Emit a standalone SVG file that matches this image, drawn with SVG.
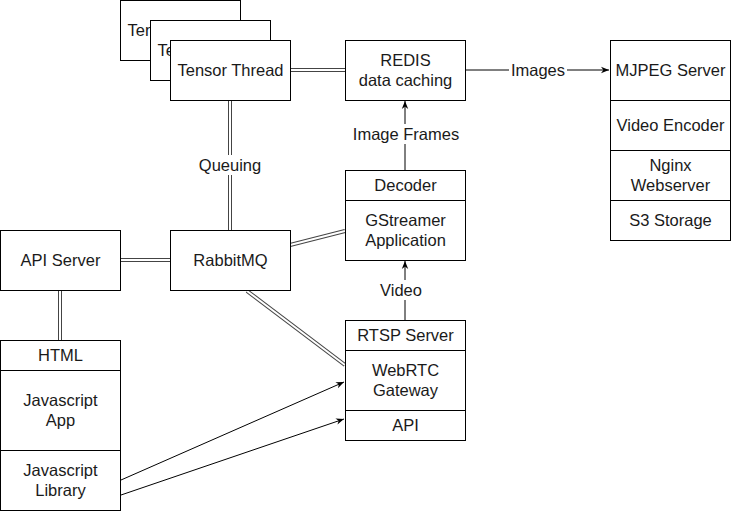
<svg xmlns="http://www.w3.org/2000/svg" width="731" height="511" viewBox="0 0 731 511">
<defs>
<marker id="arr" viewBox="0 0 10 10" refX="10" refY="5" markerWidth="8" markerHeight="8" markerUnits="userSpaceOnUse" orient="auto">
<path d="M0,1 L10,5 L0,9 L3,5 Z" fill="#000"/>
</marker>
</defs>
<style>
.b{fill:#fff;stroke:#000;stroke-width:1}
.t{font-family:"Liberation Sans",Arial,sans-serif;font-size:16.5px;fill:#1a1a1a;text-anchor:middle}
.lo{fill:none;stroke:#444;stroke-width:4}
.li{fill:none;stroke:#fff;stroke-width:2}
.s{fill:none;stroke:#000;stroke-width:1}
.lb{fill:#fff}
</style>
<rect width="731" height="511" fill="#fff"/>
<g id="tensor3">
<rect class="b" x="120.5" y="0.5" width="120" height="60"/>
<text class="t" x="180.5" y="36">Tensor Thread</text>
</g>
<g id="tensor2">
<rect class="b" x="150.5" y="20.5" width="120" height="60"/>
<text class="t" x="210.5" y="56">Tensor Thread</text>
</g>
<g id="connectors">
<path class="lo" d="M290,70 H345"/><path class="li" d="M290,70 H345"/>
<path class="lo" d="M230,100 V230"/><path class="li" d="M230,100 V230"/>
<path class="lo" d="M120,260 H170"/><path class="li" d="M120,260 H170"/>
<path class="lo" d="M60,290 V340"/><path class="li" d="M60,290 V340"/>
<path class="lo" d="M290,245 L345,231"/><path class="li" d="M290,245 L345,231"/>
<path class="lo" d="M247,291 L345,365"/><path class="li" d="M247,291 L345,365"/>
<rect class="lb" x="195" y="155" width="70" height="20"/>
<text class="t" x="230" y="171">Queuing</text>
<path class="s" d="M465,70 H609" marker-end="url(#arr)"/>
<rect class="lb" x="509" y="60" width="58" height="20"/>
<text class="t" x="538" y="76">Images</text>
<path class="s" d="M405,170 V101" marker-end="url(#arr)"/>
<rect class="lb" x="348" y="124" width="116" height="20"/>
<text class="t" x="406" y="140">Image Frames</text>
<path class="s" d="M405,320 V261" marker-end="url(#arr)"/>
<rect class="lb" x="377" y="280" width="48" height="20"/>
<text class="t" x="401" y="296">Video</text>
<path class="s" d="M121,480 L344,382" marker-end="url(#arr)"/>
<path class="s" d="M121,495 L344,419" marker-end="url(#arr)"/>
</g>
<g id="tensor1">
<rect class="b" x="170.5" y="40.5" width="120" height="60"/>
<text class="t" x="230.5" y="76">Tensor Thread</text>
</g>
<g id="redis">
<rect class="b" x="345.5" y="40.5" width="120" height="60"/>
<text class="t" x="405.5" y="66">REDIS</text>
<text class="t" x="405.5" y="86">data caching</text>
</g>
<g id="mjpeg">
<rect class="b" x="610.5" y="40.5" width="120" height="200"/>
<path class="s" d="M610.5,100.5 H730.5 M610.5,150.5 H730.5 M610.5,200.5 H730.5"/>
<text class="t" x="670.5" y="76">MJPEG Server</text>
<text class="t" x="670.5" y="131">Video Encoder</text>
<text class="t" x="670.5" y="171">Nginx</text>
<text class="t" x="670.5" y="191">Webserver</text>
<text class="t" x="670.5" y="226">S3 Storage</text>
</g>
<g id="gstreamer">
<rect class="b" x="345.5" y="170.5" width="120" height="90"/>
<path class="s" d="M345.5,200.5 H465.5"/>
<text class="t" x="405.5" y="191">Decoder</text>
<text class="t" x="405.5" y="226">GStreamer</text>
<text class="t" x="405.5" y="246">Application</text>
</g>
<g id="rabbitmq">
<rect class="b" x="170.5" y="230.5" width="120" height="60"/>
<text class="t" x="230.5" y="266">RabbitMQ</text>
</g>
<g id="apiserver">
<rect class="b" x="0.5" y="230.5" width="120" height="60"/>
<text class="t" x="60.5" y="266">API Server</text>
</g>
<g id="rtsp">
<rect class="b" x="345.5" y="320.5" width="120" height="120"/>
<path class="s" d="M345.5,350.5 H465.5 M345.5,410.5 H465.5"/>
<text class="t" x="405.5" y="341">RTSP Server</text>
<text class="t" x="405.5" y="376">WebRTC</text>
<text class="t" x="405.5" y="396">Gateway</text>
<text class="t" x="405.5" y="431">API</text>
</g>
<g id="client">
<rect class="b" x="0.5" y="340.5" width="120" height="170"/>
<path class="s" d="M0.5,370.5 H120.5 M0.5,450.5 H120.5"/>
<text class="t" x="60.5" y="361">HTML</text>
<text class="t" x="60.5" y="406">Javascript</text>
<text class="t" x="60.5" y="426">App</text>
<text class="t" x="60.5" y="476">Javascript</text>
<text class="t" x="60.5" y="496">Library</text>
</g>
</svg>
